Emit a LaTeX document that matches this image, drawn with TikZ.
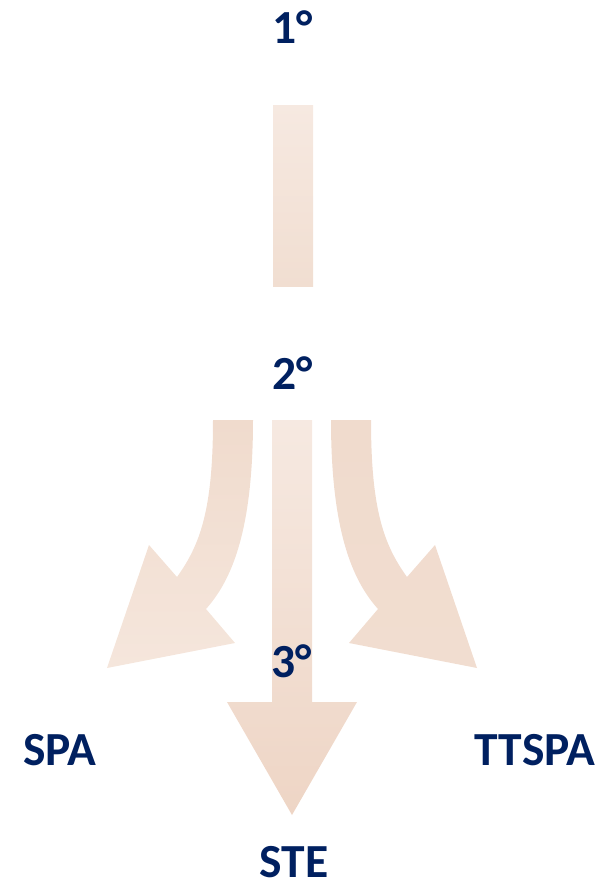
\documentclass[tikz,border=0pt]{standalone}
\usepackage{fontspec}
\setmainfont{Carlito}
\definecolor{navy}{HTML}{002060}
\definecolor{peachA}{HTML}{F6E9E1}
\definecolor{peachB}{HTML}{EED5C5}
\definecolor{peachC}{HTML}{F0DBCD}
\definecolor{peachD}{HTML}{F5E6DC}
\definecolor{peachE}{HTML}{F1DED1}
\tikzset{
  lbl/.style={anchor=base,inner sep=0pt,text depth=0pt,text=navy,font=\fontsize{47.5bp}{50bp}\selectfont\bfseries},
}
\begin{document}
\begin{tikzpicture}[x=1bp,y=-1bp]
\useasboundingbox (0,0) rectangle (606,884);
% vertical bar 1 -> 2
\shade[top color=peachA,bottom color=peachE] (273,105) rectangle (313,286);
% center arrow
\shade[top color=peachA,bottom color=peachB]
  (272,420) -- (312,420) -- (312,702) -- (357,702) -- (292,815) -- (227,702) -- (272,702) -- cycle;
% left curved arrow
\shade[top color=peachC,bottom color=peachD]
  (213,420) -- (253,420) .. controls (253,530) and (232,580) .. (206,609)
  -- (235,643) -- (107,668) -- (149,545) -- (177,577)
  .. controls (200,545) and (213,510) .. (213,420) -- cycle;
% right curved arrow
\shade[top color=peachC,bottom color=peachC!80!peachD]
  (371,420) -- (331,420) .. controls (331,530) and (352,580) .. (378,609)
  -- (349,643) -- (477,668) -- (435,545) -- (407,577)
  .. controls (384,545) and (371,510) .. (371,420) -- cycle;
% labels
\node[lbl] (one) at (293,43) {1°};
\node[lbl] (two) at (293,389) {2°};
\node[lbl] (three) at (292,677) {3°};
\node[lbl] (spa) at (60,765) {SPA};
\node[lbl] (ttspa) at (535,765) {TTSPA};
\node[lbl] (ste) at (294,877) {STE};
\end{tikzpicture}
\end{document}
